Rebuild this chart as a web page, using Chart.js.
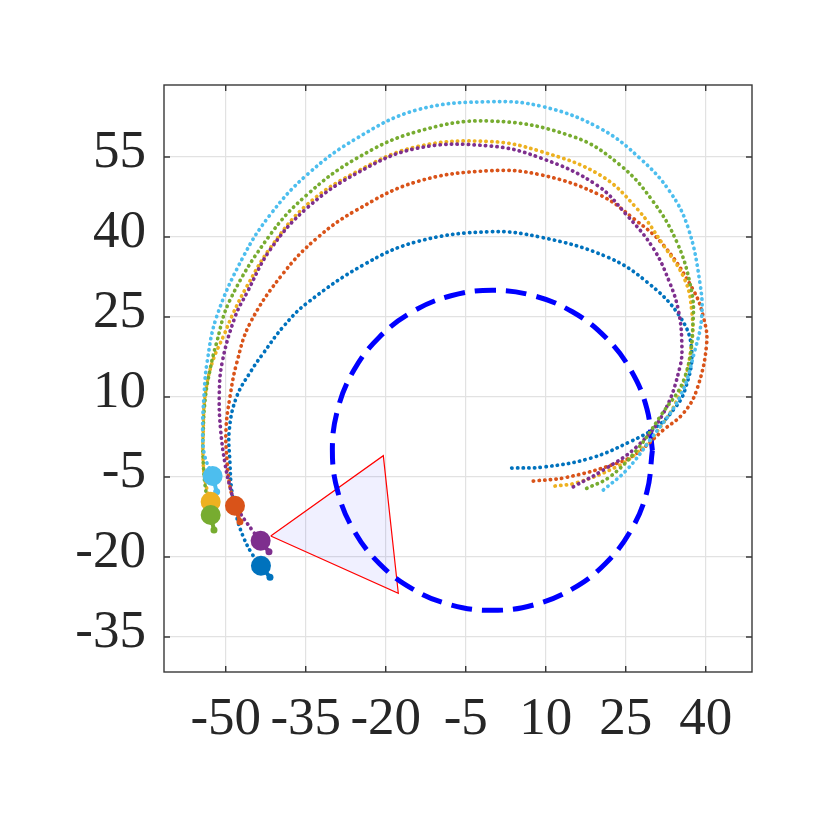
<!DOCTYPE html>
<html>
<head>
<meta charset="utf-8">
<script src="https://cdn.jsdelivr.net/npm/chart.js@4.4.1/dist/chart.umd.min.js"></script>
<style>
  html, body { margin: 0; padding: 0; background: #fff; }
  #wrap { width: 830px; height: 830px; }
</style>
</head>
<body>
<div id="wrap"><canvas id="plot"></canvas></div>
<script>
'use strict';

/* ── AXES ── */
const xTicks = [-50, -35, -20, -5, 10, 25, 40];
const yTicks = [-35, -20, -5, 10, 25, 40, 55];
const xRange = [-61.57, 48.68];
const yRange = [-41.56, 68.5];

/* ── TRAJECTOIRES (x, y) : départ dans le cercle → fin au marqueur ── */
const trackBlue = [
  [3.62, -3.32], [9.54, -3.13], [18.30, -1.50], [25.80, 1.61], [30.81, 4.43], [33.92, 7.56],
  [36.11, 11.31], [37.37, 18.81], [35.18, 25.05], [28.93, 31.61], [21.43, 36.30], [9.24, 39.93],
  [-0.45, 40.99], [-14.19, 39.11], [-24.21, 34.75], [-34.82, 27.56], [-39.21, 23.18], [-42.96, 18.19],
  [-45.13, 15.06], [-47.95, 10.05], [-49.33, 3.81], [-49.20, -2.44], [-48.88, -7.44], [-47.95, -12.45],
  [-46.71, -16.20], [-45.13, -19.31], [-43.39, -21.64],
];
const trackOrange = [
  [7.67, -5.76], [13.93, -5.06], [23.31, -2.44], [27.06, -0.56], [32.05, 3.81], [35.80, 6.94],
  [38.31, 11.31], [40.18, 20.06], [39.55, 25.05], [37.67, 30.06], [32.05, 38.50], [26.42, 43.50],
  [20.18, 47.87], [9.24, 51.62], [-0.45, 52.43], [-14.19, 50.36], [-25.45, 45.06], [-32.95, 39.75],
  [-39.21, 33.19], [-45.45, 23.81], [-47.95, 16.31], [-49.20, 10.05], [-49.95, 3.81], [-49.71, -2.44],
  [-49.20, -6.83], [-48.26, -10.39],
];
const trackYellow = [
  [11.74, -6.69], [15.81, -6.08], [23.31, -3.08], [27.06, -0.56], [30.17, 2.55], [35.18, 10.69],
  [37.37, 20.06], [37.37, 26.31], [36.11, 31.93], [32.05, 38.50], [27.06, 45.38], [20.18, 51.62],
  [9.24, 55.99], [-0.45, 57.90], [-14.19, 56.93], [-25.45, 52.24], [-34.82, 46.00], [-41.70, 37.88],
  [-46.07, 30.68], [-48.58, 25.75], [-50.33, 21.62], [-52.58, 16.31], [-53.89, 10.05], [-54.21, 3.81],
  [-54.21, -2.44], [-53.70, -6.51], [-52.82, -9.64],
];
const trackPurple = [
  [15.17, -6.83], [20.80, -3.69], [27.06, 0.68], [32.05, 6.94], [35.18, 15.68], [35.50, 20.68],
  [34.86, 26.31], [33.30, 31.31], [30.17, 37.88], [25.18, 44.12], [19.56, 49.75], [9.24, 54.75],
  [-0.45, 57.06], [-14.19, 56.63], [-25.45, 51.94], [-34.82, 45.38], [-41.70, 37.56], [-46.07, 29.44],
  [-48.26, 24.99], [-50.70, 16.31], [-51.21, 10.05], [-50.95, 3.81], [-50.14, -2.44], [-49.20, -6.83],
  [-47.95, -10.58], [-44.83, -15.26], [-43.45, -16.95],
];
const trackGreen = [
  [17.68, -7.13], [22.05, -4.95], [27.06, 0.06], [31.43, 6.30], [36.11, 13.80], [37.67, 25.05],
  [37.05, 31.31], [34.56, 39.11], [30.17, 46.62], [23.93, 53.50], [15.17, 58.80], [-0.45, 61.75],
  [-14.19, 59.74], [-25.45, 54.75], [-34.82, 47.87], [-41.70, 40.37], [-49.20, 28.18], [-51.83, 19.74],
  [-52.95, 15.06], [-53.80, 10.05], [-54.21, 3.81], [-54.21, -2.44], [-53.57, -8.70], [-52.82, -12.13],
];
const trackCyan = [
  [20.80, -7.44], [25.18, -3.69], [29.55, 1.93], [35.18, 10.05], [37.99, 18.81], [39.25, 25.05],
  [38.93, 31.31], [36.73, 41.63], [33.30, 48.49], [27.68, 54.75], [20.18, 60.38], [9.54, 64.43],
  [-0.45, 65.37], [-14.19, 63.81], [-25.45, 58.50], [-34.82, 51.62], [-41.70, 44.12], [-46.71, 36.30],
  [-51.70, 25.05], [-53.52, 16.31], [-54.08, 10.05], [-54.32, 3.81], [-53.98, -0.88], [-52.45, -4.82],
];

/* pointe du petit trait de cap, dans l'ordre des trajectoires */
const tailTips = [
  [-41.70, -23.81], [-47.33, -13.39], [-52.40, -12.10], [-41.89, -19.01], [-52.20, -14.94], [-51.70, -7.76],
];

/* ── CERCLE (r = 30) ── */
const ringPts = [
  [30, 0], [28.98, 7.76], [25.98, 15], [21.21, 21.21], [15, 25.98], [7.76, 28.98],
  [0, 30], [-7.76, 28.98], [-15, 25.98], [-21.21, 21.21], [-25.98, 15], [-28.98, 7.76],
  [-30, 0], [-28.98, -7.76], [-25.98, -15], [-21.21, -21.21], [-15, -25.98], [-7.76, -28.98],
  [0, -30], [7.76, -28.98], [15, -25.98], [21.21, -21.21], [25.98, -15], [28.98, -7.76], [30, 0],
];

/* ── TRIANGLE ── */
const triPts = [[-41.56, -16.07], [-20.45, -1.0], [-17.64, -26.8], [-41.56, -16.07]];

const tracks  = [trackBlue, trackOrange, trackYellow, trackPurple, trackGreen, trackCyan];
const colors  = ['#0072BD', '#D95319', '#EDB120', '#7E2F8E', '#77AC30', '#4DBEEE'];

const toXY = arr => arr.map(([x, y]) => ({ x, y }));

/* ── PLUGIN : cadre + graduations intérieures ── */
const axesBox = {
  id: 'axesBox',
  beforeDatasetsDraw(chart) {
    const { ctx, chartArea: a, scales: { x, y } } = chart;
    const len = 6;
    ctx.save();
    ctx.strokeStyle = '#383838';
    ctx.lineWidth = 1.4;
    ctx.strokeRect(a.left, a.top, a.right - a.left, a.bottom - a.top);
    ctx.beginPath();
    xTicks.forEach(v => {
      const px = x.getPixelForValue(v);
      ctx.moveTo(px, a.bottom); ctx.lineTo(px, a.bottom - len);
      ctx.moveTo(px, a.top);    ctx.lineTo(px, a.top + len);
    });
    yTicks.forEach(v => {
      const py = y.getPixelForValue(v);
      ctx.moveTo(a.left, py);  ctx.lineTo(a.left + len, py);
      ctx.moveTo(a.right, py); ctx.lineTo(a.right - len, py);
    });
    ctx.stroke();
    ctx.restore();
  },
};

/* ── DATASETS ── */
const datasets = [];

datasets.push({
  data: toXY(triPts),
  showLine: true,
  borderColor: '#FF0000',
  borderWidth: 1.2,
  backgroundColor: 'rgba(0,0,255,0.06)',
  fill: 'shape',
  pointRadius: 0,
  tension: 0,
  order: 20,
});

datasets.push({
  data: toXY(ringPts),
  showLine: true,
  borderColor: '#0000FF',
  borderWidth: 5,
  borderDash: [21, 10],
  borderCapStyle: 'butt',
  pointRadius: 0,
  tension: 0.4,
  order: 19,
});

tracks.forEach((t, i) => {
  datasets.push({
    data: toXY(t),
    showLine: true,
    borderColor: colors[i],
    borderWidth: 3.7,
    borderDash: [0.3, 5.4],
    borderCapStyle: 'round',
    pointRadius: 0,
    tension: 0.4,
    order: 10 - i,
  });
});

tracks.forEach((t, i) => {
  datasets.push({
    data: toXY([t.at(-1), tailTips[i]]),
    showLine: true,
    borderColor: colors[i],
    borderWidth: 4,
    borderCapStyle: 'round',
    pointRadius: [0, 3.5],
    pointBackgroundColor: colors[i],
    pointBorderWidth: 0,
    order: 3,
  });
});

datasets.push({
  data: toXY(tracks.map(t => t.at(-1))),
  showLine: false,
  pointRadius: 10,
  pointBackgroundColor: colors,
  pointBorderWidth: 0,
  order: 1,
});

const tickFont = { family: '"Liberation Serif", "DejaVu Serif", serif', size: 53 };

new Chart(document.getElementById('plot'), {
  type: 'scatter',
  data: { datasets },
  plugins: [axesBox],
  options: {
    responsive: true,
    maintainAspectRatio: false,
    animation: false,
    devicePixelRatio: 1,
    layout: { padding: { top: 85, right: 78, left: 0, bottom: 0 } },
    plugins: { legend: { display: false }, tooltip: { enabled: false } },
    scales: {
      x: {
        type: 'linear',
        min: xRange[0],
        max: xRange[1],
        afterBuildTicks: s => { s.ticks = xTicks.map(value => ({ value })); },
        afterFit: s => { s.height = 158; },
        grid: { color: '#E2E2E2', lineWidth: 1.2, drawTicks: false },
        border: { display: false },
        ticks: { font: tickFont, color: '#262626', padding: 16, maxRotation: 0, autoSkip: false },
      },
      y: {
        type: 'linear',
        min: yRange[0],
        max: yRange[1],
        afterBuildTicks: s => { s.ticks = yTicks.map(value => ({ value })); },
        afterFit: s => { s.width = 164; },
        grid: { color: '#E2E2E2', lineWidth: 1.2, drawTicks: false },
        border: { display: false },
        ticks: { font: tickFont, color: '#262626', padding: 18, labelOffset: -4, autoSkip: false },
      },
    },
  },
});
</script>
</body>
</html>
